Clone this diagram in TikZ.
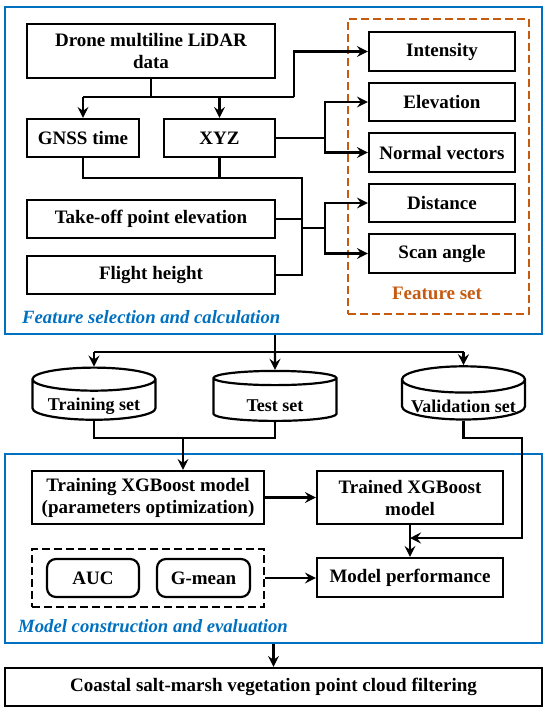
\documentclass[tikz,border=0pt]{standalone}
\usepackage{fontspec}
\setmainfont{Liberation Serif}
\usetikzlibrary{arrows.meta,shapes.geometric}
\definecolor{pblue}{HTML}{0070C0}
\definecolor{porange}{HTML}{C55A11}
\tikzset{
  box/.style={draw=black,line width=2.2pt,inner sep=0pt,align=center,font=\fontsize{19}{22}\selectfont\bfseries},
  rbox/.style={box,rounded corners=9pt},
  cyl/.style={draw=black,line width=2.2pt,cylinder,shape border rotate=90,aspect=0.25,inner sep=0pt,minimum width=123pt,minimum height=50pt,font=\fontsize{18}{21}\selectfont\bfseries},
  frame/.style={draw=pblue,line width=2.8pt,inner sep=0pt},
  dbox/.style={line width=2.6pt,dash pattern=on 8pt off 4pt,inner sep=0pt},
  lbl/.style={text=pblue,font=\fontsize{18.7}{21}\selectfont\bfseries\itshape,inner sep=0pt,anchor=west},
  conn/.style={line width=2.2pt,draw=black},
  arr/.style={conn,-{Stealth[length=11pt,width=11pt,inset=4pt]}},
}
\newcommand{\cyltext}[1]{\raisebox{-6pt}[\height][\depth]{#1}}
\begin{document}
\begin{tikzpicture}[x=1pt,y=-1pt]
\useasboundingbox (0,0) rectangle (550,713);
% frames
\node[frame,minimum width=537pt,minimum height=327pt] (f1) at (273.5,170.5) {};
\node[frame,minimum width=537pt,minimum height=189pt] (f2) at (273.5,548.5) {};
\node[dbox,draw=porange,minimum width=181pt,minimum height=295pt] (fs) at (438.5,166.5) {};
\node[dbox,draw=black,minimum width=232pt,minimum height=58pt] (ev) at (148,578) {};
\node[lbl] (l1) at (22,317) {Feature selection and calculation};
\node[lbl] (l2) at (18,626) {Model construction and evaluation};
\node[text=porange,font=\fontsize{19}{22}\selectfont\bfseries,inner sep=0pt] (fsl) at (437,293) {Feature set};
% top nodes
\node[box,minimum width=248pt,minimum height=54pt] (drone) at (151,51) {Drone multiline LiDAR\\data};
\node[box,minimum width=112pt,minimum height=38pt] (gnss) at (83,138) {GNSS time};
\node[box,minimum width=111pt,minimum height=38pt] (xyz) at (219.5,138) {XYZ};
\node[box,minimum width=248pt,minimum height=38pt] (take) at (151,219) {Take-off point elevation};
\node[box,minimum width=248pt,minimum height=38pt] (flight) at (151,275) {Flight height};
\node[box,minimum width=146pt,minimum height=39pt] (int) at (442,51.5) {Intensity};
\node[box,minimum width=146pt,minimum height=38pt] (elev) at (442,102) {Elevation};
\node[box,minimum width=146pt,minimum height=39pt] (norm) at (442,152.5) {Normal vectors};
\node[box,minimum width=146pt,minimum height=38pt] (dist) at (442,203) {Distance};
\node[box,minimum width=146pt,minimum height=39pt] (scan) at (442,253.5) {Scan angle};
% cylinders
\node[cyl] (train) at (94,400) {\cyltext{Training set}};
\node[cyl] (test) at (275,400) {\cyltext{Test set}};
\node[cyl] (val) at (463.5,400) {\cyltext{Validation set}};
% bottom nodes
\node[box,minimum width=232pt,minimum height=53pt] (txgb) at (148,497.5) {Training XGBoost model\\(parameters optimization)};
\node[box,minimum width=186pt,minimum height=53pt] (trd) at (410,497.5) {Trained XGBoost\\model};
\node[box,minimum width=186pt,minimum height=39pt] (perf) at (410,577.5) {Model performance};
\node[rbox,minimum width=92pt,minimum height=38pt] (auc) at (93,578) {AUC};
\node[rbox,minimum width=93pt,minimum height=38pt] (gm) at (203.5,578) {G-mean};
\node[box,minimum width=537pt,minimum height=38pt] (final) at (273.5,687) {Coastal salt-marsh vegetation point cloud filtering};
% coordinates
\coordinate (j1) at (151,97);
\coordinate (jint) at (294,97);
\coordinate (j2) at (302,178);
\coordinate (j3) at (302,228);
\coordinate (j4) at (325,228);
\coordinate (j5) at (325,138);
\coordinate (j6) at (275,352);
\coordinate (j7) at (183,438);
\coordinate (j8) at (522,438);
\coordinate (vend) at (410,538);
% connectors top
\draw[conn] (drone.south) -- (j1);
\draw[conn] (gnss.north |- j1) -- (jint);
\draw[arr] (gnss.north |- j1) -- (gnss.north);
\draw[arr] (xyz.north |- j1) -- (xyz.north);
\draw[arr] (jint) -- (jint |- int.west) -- (int.west);
\draw[conn] (gnss.south) -- (gnss.south |- j2) -- (j2) -- (j2 |- flight.east) -- (flight.east);
\draw[conn] (xyz.south) -- (xyz.south |- j2);
\draw[conn] (take.east) -- (j2 |- take.east);
\draw[conn] (j3) -- (j4);
\draw[arr] (j4) -- (j4 |- dist.west) -- (dist.west);
\draw[arr] (j4) -- (j4 |- scan.west) -- (scan.west);
\draw[conn] (xyz.east) -- (j5);
\draw[arr] (j5) -- (j5 |- elev.west) -- (elev.west);
\draw[arr] (j5) -- (j5 |- norm.west) -- (norm.west);
% middle
\draw[conn] (j6 |- f1.south) -- (j6);
\draw[conn] (train.north |- j6) -- (val.north |- j6);
\draw[arr] (train.north |- j6) -- (train.north);
\draw[arr] (j6) -- (test.north);
\draw[arr] (val.north |- j6) -- (val.north);
\draw[conn] (train.south) -- (train.south |- j7) -- (test.south |- j7) -- (test.south);
\draw[arr] (j7) -- (j7 |- txgb.north);
\draw[arr] (val.south) -- (val.south |- j8) -- (j8) -- (j8 |- vend) -- (vend);
% bottom
\draw[arr] (txgb.east) -- (trd.west);
\draw[arr] (trd.south) -- (perf.north);
\draw[arr] (ev.east) -- (perf.west |- ev.east);
\draw[arr] (final.north |- f2.south) -- (final.north);
\end{tikzpicture}
\end{document}
